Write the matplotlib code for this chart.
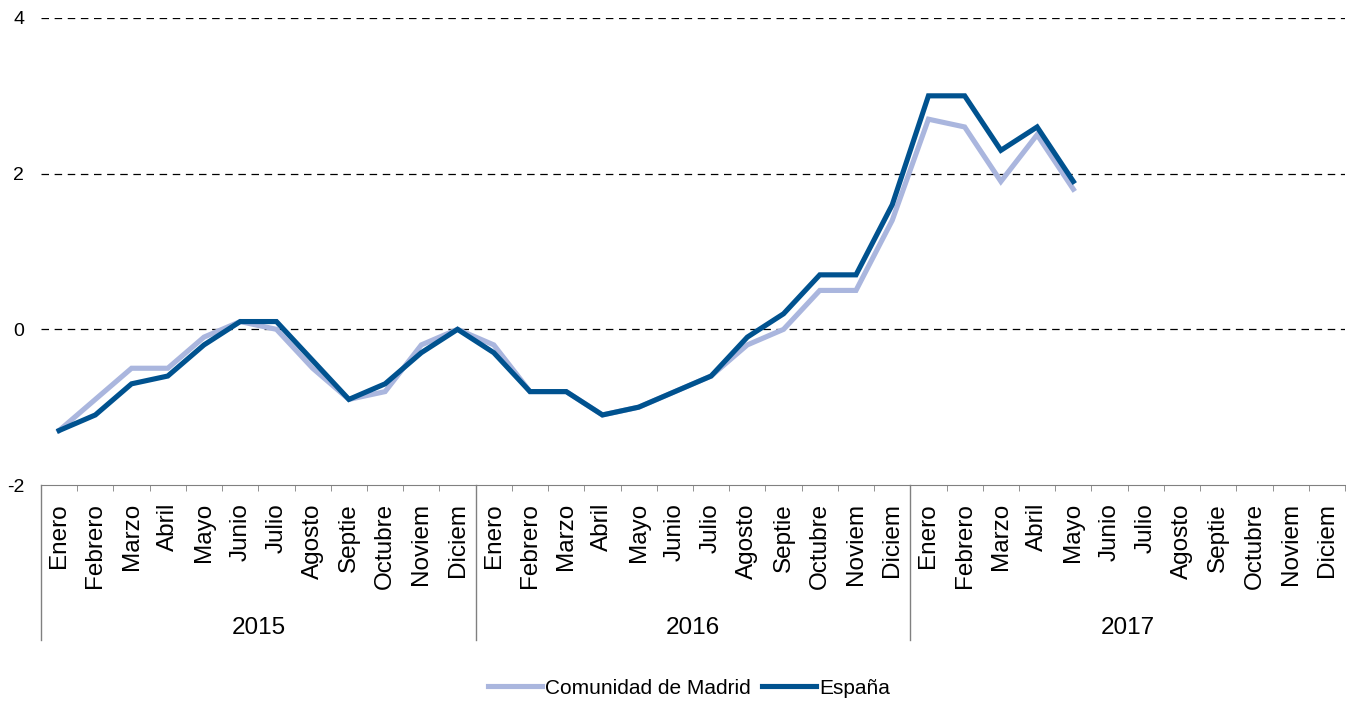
import matplotlib
matplotlib.use("Agg")
import matplotlib.pyplot as plt
import matplotlib.transforms as mtransforms

plt.rcParams["font.family"] = ["Liberation Sans", "DejaVu Sans"]

# datos: variacion interanual (%) por mes
meses = ["Enero", "Febrero", "Marzo", "Abril", "Mayo", "Junio", "Julio",
         "Agosto", "Septie", "Octubre", "Noviem", "Diciem"]
anios = ["2015", "2016", "2017"]

madrid = [-1.3, -0.9, -0.5, -0.5, -0.1, 0.1, 0.0, -0.5, -0.9, -0.8, -0.2, 0.0,
          -0.2, -0.8, -0.8, -1.1, -1.0, -0.8, -0.6, -0.2, 0.0, 0.5, 0.5, 1.4,
          2.7, 2.6, 1.9, 2.5, 1.8]
espana = [-1.3, -1.1, -0.7, -0.6, -0.2, 0.1, 0.1, -0.4, -0.9, -0.7, -0.3, 0.0,
          -0.3, -0.8, -0.8, -1.1, -1.0, -0.8, -0.6, -0.1, 0.2, 0.7, 0.7, 1.6,
          3.0, 3.0, 2.3, 2.6, 1.9]

n_total = len(meses) * len(anios)

fig = plt.figure(figsize=(13.46, 7.04), dpi=100)
ax = fig.add_axes([41 / 1346, 1 - 485 / 704, 1304 / 1346, 467 / 704])

ax.plot(range(len(madrid)), madrid, color="#aab6de", lw=3.7,
        label="Comunidad de Madrid", solid_joinstyle="miter")
ax.plot(range(len(espana)), espana, color="#00528f", lw=3.7,
        label="España", solid_joinstyle="miter")

ax.set_xlim(-0.5, n_total - 0.5)
ax.set_ylim(-2, 4)
ax.set_yticks([-2, 0, 2, 4])
ax.set_yticklabels(["-2", "0", "2", "4"])
for y in [0, 2, 4]:
    ax.axhline(y, color="black", lw=0.9, ls=(0, (6, 4.5)), zorder=0)

for s in ["top", "right", "left"]:
    ax.spines[s].set_visible(False)
ax.spines["bottom"].set_color("#808080")
ax.tick_params(axis="y", length=0, pad=12, labelsize=14)

# etiquetas de meses en el centro, marcas en los limites
ax.set_xticks(range(n_total))
ax.set_xticklabels(meses * len(anios), rotation=90, fontsize=17.5, va="top")
ax.tick_params(axis="x", which="major", length=0, pad=13)
ax.set_xticks([i - 0.5 for i in range(n_total + 1)], minor=True)
ax.tick_params(axis="x", which="minor", length=4, color="#808080", direction="out")

# separadores y etiquetas de anios
trans = mtransforms.blended_transform_factory(ax.transData, ax.transAxes)
for k, a in enumerate(anios):
    x0 = k * len(meses) - 0.5
    ax.plot([x0, x0], [0, -155 / 467], color="#808080", lw=1,
            transform=trans, clip_on=False)
    ax.text(x0 + len(meses) / 2, -143 / 467, a, transform=trans,
            ha="center", va="center", fontsize=17.5)

ax.legend(loc="center", bbox_to_anchor=(0.512, 1 - 688 / 704),
          bbox_transform=fig.transFigure, ncol=2, frameon=False,
          fontsize=15, handlelength=2.6, handletextpad=0.15,
          columnspacing=0.55)

fig.savefig("out.png", dpi=100)
